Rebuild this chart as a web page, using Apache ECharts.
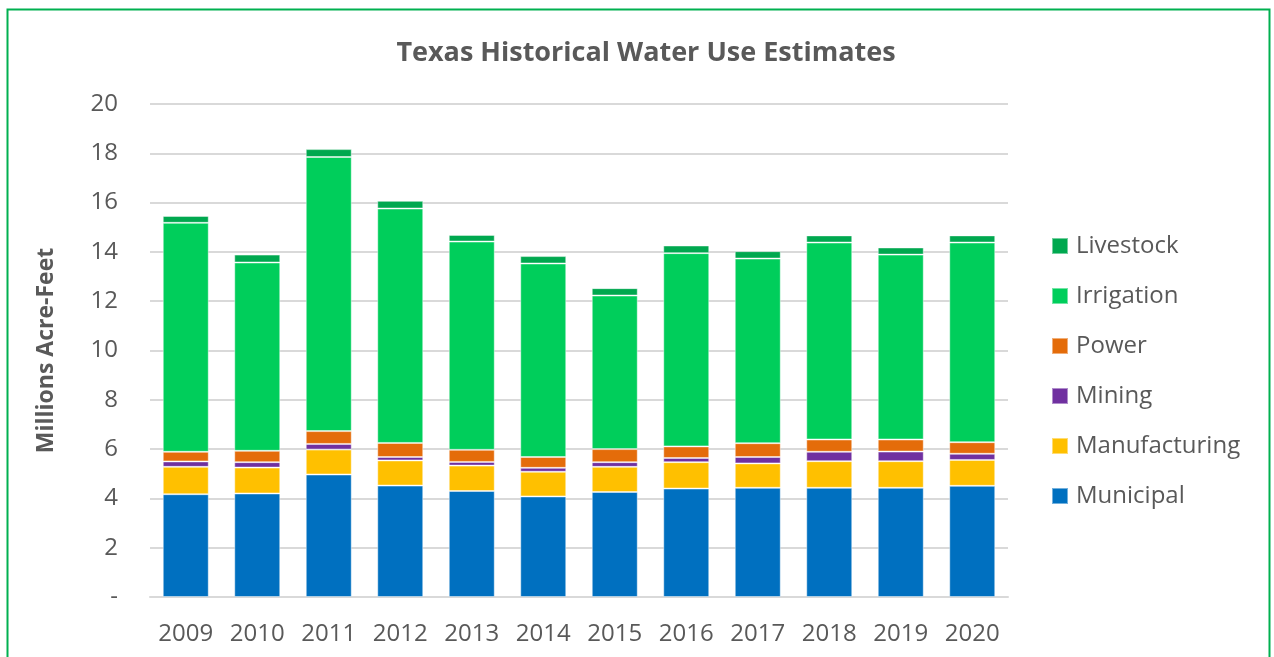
<!DOCTYPE html>
<html><head><meta charset="utf-8">
<script src="https://cdn.jsdelivr.net/npm/echarts@6/dist/echarts.min.js"></script>
<style>html,body{margin:0;padding:0;background:#fff}#c{width:1274px;height:657px}</style>
</head><body><div id="c"></div>
<script>
const years = ['2009','2010','2011','2012','2013','2014','2015','2016','2017','2018','2019','2020'];
const municipal     = [4.17,4.20,4.97,4.52,4.30,4.08,4.26,4.40,4.43,4.43,4.43,4.51];
const manufacturing = [1.11,1.05,1.01,1.02,1.03,1.00,1.02,1.07,0.99,1.08,1.08,1.05];
const mining        = [0.22,0.22,0.23,0.14,0.15,0.16,0.19,0.17,0.26,0.38,0.39,0.25];
const power         = [0.39,0.46,0.52,0.57,0.49,0.44,0.53,0.47,0.56,0.50,0.49,0.47];
const irrigation    = [9.29,7.64,11.12,9.51,8.45,7.85,6.23,7.84,7.49,7.99,7.50,8.10];
const livestock     = [0.28,0.32,0.32,0.31,0.27,0.30,0.30,0.31,0.30,0.29,0.29,0.29];
const yTicks = ['-','2','4','6','8','10','12','14','16','18','20'];

const FONT = 'Open Sans';
const seriesDefs = [
  ['Municipal', municipal, '#0070C0'],
  ['Manufacturing', manufacturing, '#FFC000'],
  ['Mining', mining, '#7030A0'],
  ['Power', power, '#E46C0A'],
  ['Irrigation', irrigation, '#00CE5B'],
  ['Livestock', livestock, '#00A84F']
];
const chart = echarts.init(document.getElementById('c'));
chart.setOption({
  animation: false,
  textStyle: {fontFamily: FONT},
  title: {text: 'Texas Historical Water Use Estimates', left: 641, top: 35, textAlign: 'center',
    textStyle: {fontFamily: FONT, fontSize: 27, fontWeight: 'bold', color: '#595959'}},
  graphic: [{type: 'rect', shape: {x: 7.5, y: 9.5, width: 1262, height: 660},
    style: {fill: 'none', stroke: '#00B050', lineWidth: 2}, silent: true}],
  grid: {left: 150, right: 266, top: 104, bottom: 60, containLabel: false},
  legend: {
    orient: 'vertical', left: 1051, top: 234, padding: 0, itemGap: 26, itemWidth: 16, itemHeight: 16,
    data: ['Livestock','Irrigation','Power','Mining','Manufacturing','Municipal'],
    textStyle: {fontFamily: FONT, fontSize: 24, lineHeight: 24, color: '#595959', padding: [0,0,0,3]},
    icon: 'rect'
  },
  xAxis: {type: 'category', data: years,
    axisLine: {lineStyle: {color: '#D9D9D9', width: 2}}, axisTick: {show: false},
    axisLabel: {fontFamily: FONT, fontSize: 24, color: '#595959', margin: 25}},
  yAxis: {type: 'value', min: 0, max: 20, interval: 2,
    name: 'Millions Acre-Feet', nameLocation: 'middle', nameGap: 92,
    nameTextStyle: {fontFamily: FONT, fontSize: 23, fontWeight: 'bold', color: '#595959'},
    axisLabel: {fontFamily: FONT, fontSize: 24, color: '#595959', margin: 32,
      formatter: v => yTicks[Math.round(v/2)]},
    splitLine: {lineStyle: {color: '#D9D9D9', width: 2}},
    axisLine: {show: false}, axisTick: {show: false}},
  series: seriesDefs.map(([name, data, color]) => ({
    name, type: 'bar', stack: 'total', data, barWidth: 46,
    itemStyle: {color, borderColor: 'rgba(255,255,255,0.45)', borderWidth: 1}
  }))
});
</script></body></html>
